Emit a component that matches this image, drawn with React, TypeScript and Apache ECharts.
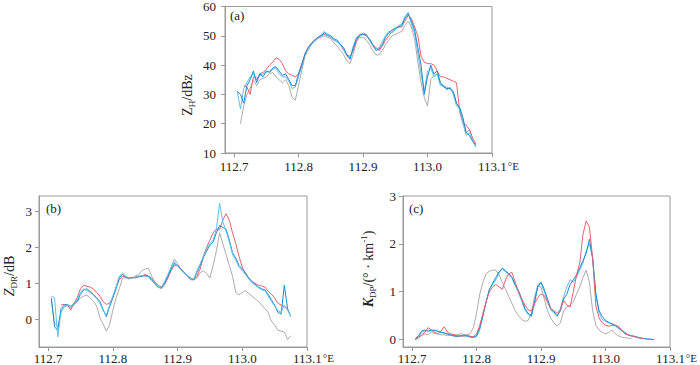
import React, { useEffect, useRef } from "react";
import * as echarts from "echarts";

const LON = [
  112.705, 112.71, 112.715, 112.72, 112.725, 112.73, 112.735, 112.74, 112.745, 112.75,
  112.755, 112.76, 112.765, 112.77, 112.775, 112.78, 112.785, 112.79, 112.795, 112.8,
  112.805, 112.81, 112.815, 112.82, 112.825, 112.83, 112.835, 112.84, 112.845, 112.85,
  112.855, 112.86, 112.865, 112.87, 112.875, 112.88, 112.885, 112.89, 112.895, 112.9,
  112.905, 112.91, 112.915, 112.92, 112.925, 112.93, 112.935, 112.94, 112.945, 112.95,
  112.955, 112.96, 112.965, 112.97, 112.975, 112.98, 112.985, 112.99, 112.995, 113.0,
  113.005, 113.01, 113.015, 113.02, 113.025, 113.03, 113.035, 113.04, 113.045, 113.05,
  113.055, 113.06, 113.065, 113.07, 113.075,
];

const X_TICKS = [112.7, 112.8, 112.9, 113.0, 113.1];
const ZDR_TICKS = [0, 1, 2, 3];
const KDP_TICKS = [0, 1, 2, 3];

// (a) Z_H / dBz
const ZH_RED = [
  null, null, 33, 32.5, 30, 36, 35, 37, 37.5, 38.5,
  40, 41, 42.5, 42, 40.5, 38, 37, 36.5, 36, 37,
  40.5, 43.5, 46, 47.5, 48.5, 49.5, 50, 50.5, 50, 49.5,
  48.5, 48, 47, 45, 43.5, 43, 45, 48.5, 50, 50.5,
  50.5, 48.5, 47, 46, 45, 46.5, 48.5, 50, 51.5, 52.5,
  53, 53, 55, 57, 56, 53, 50, 43, 41, 40.5,
  40.5, 40, 38, 36, 36, 35.5, 35, 34.5, 34, 24,
  20, 19.5, 18, 15, 13,
];
const ZH_BLUE = [
  31, 30, 27, 33, 35, 38, 34, 37, 36, 38,
  37.5, 39, 39.5, 38, 36.5, 37, 35, 33, 33, 37,
  40, 44, 46, 47.5, 48.5, 49.5, 50, 51, 50.5, 50,
  49, 48.5, 47, 46, 43.5, 42, 46, 49, 50.5, 50.5,
  50, 49, 47, 45, 45.5, 47, 49.5, 51, 52, 52.5,
  53, 53.5, 56, 57.5, 55, 52, 46, 40, 30, 36,
  40, 37, 38, 34, 32.5, 32, 32, 31, 27, 25.5,
  22, 17, 16, 14, 12.5,
];
const ZH_LBLUE = [
  31, 25, 32, 34, 36, 37, 35.5, 36.5, 37, 37.5,
  38, 38.5, 39, 37, 36, 36, 34.5, 32, 32.5, 36,
  39.5, 43.5, 46, 47, 48.5, 49, 50.5, 51.5, 50, 49.5,
  48.5, 48, 47, 45.5, 43, 42.5, 46.5, 49.5, 50, 51,
  50.5, 48.5, 46.5, 45.5, 46, 48, 50, 51.5, 51, 52,
  53.5, 54, 56.5, 58, 54, 51, 44, 37, 31, 38,
  39, 36, 37, 33, 33, 31.5, 32.5, 30, 26, 25,
  20, 16, 17, 14.5, 12,
];
const ZH_GRAY = [
  null, 20, 26, 30, 32, 35, 33, 35, 35.5, 36,
  37, 37.5, 36, 35, 34, 35, 33, 29, 28, 33,
  38, 43, 45, 47, 48, 49, 49.5, 50, 49.5, 49,
  47.5, 46.5, 45, 43.5, 41.5, 40.5, 44, 48, 49.5, 49.5,
  48.5, 47, 45, 43.5, 43.5, 45, 47, 48.5, 50, 50.5,
  51, 51.5, 53.5, 55, 53, 49, 41, 34, 29, 26,
  35, 36.5, 37, 34, 33, 32.5, 32, 30.5, 27, 25,
  21, 17, 18, 15, null,
];

// (b) Z_DR / dB
const ZDR_RED = [
  null, null, null, 0.4, 0.42, 0.4, 0.26, 0.45, 0.6, 0.85,
  0.95, 0.92, 0.9, 0.85, 0.75, 0.65, 0.5, 0.42, 0.45, 0.6,
  0.9, 1.1, 1.2, 1.18, 1.15, 1.15, 1.18, 1.2, 1.2, 1.25,
  1.2, 1.15, 1.05, 0.95, 0.9, 1.0, 1.15, 1.35, 1.5, 1.5,
  1.4, 1.3, 1.2, 1.1, 1.1, 1.2, 1.4, 1.75, 2.0, 2.2,
  2.4, 2.5, 2.5, 2.75, 2.93, 2.75, 2.4, 2.1, 1.75, 1.45,
  1.25, 1.15, 1.05, 1.0, 0.95, 0.93, 0.9, 0.78, 0.7, 0.6,
  0.45, 0.4, 0.35, 0.3, null,
];
const ZDR_BLUE = [
  0.6, -0.2, -0.3, 0.3, 0.4, 0.42, 0.35, 0.45, 0.5, 0.7,
  0.82, 0.85, 0.78, 0.7, 0.6, 0.5, 0.28, 0.08, 0.35, 0.6,
  0.85, 1.15, 1.25, 1.18, 1.15, 1.17, 1.15, 1.18, 1.2, 1.22,
  1.2, 1.1, 1.0, 0.9, 0.88, 1.0, 1.2, 1.38, 1.55, 1.5,
  1.4, 1.3, 1.22, 1.15, 1.1, 1.3, 1.5, 1.72, 1.9, 2.05,
  2.15, 2.4, 2.6, 2.55, 2.5, 2.2, 1.85, 1.7, 1.5, 1.4,
  1.3, 1.15, 1.05, 0.98, 0.9, 0.85, 0.82, 0.7, 0.55, 0.4,
  0.2, 0.15, 0.95, 0.3, 0.08,
];
const ZDR_LBLUE = [
  0.65, 0.6, -0.48, 0.2, 0.38, 0.4, 0.38, 0.42, 0.55, 0.75,
  0.85, 0.8, 0.75, 0.68, 0.58, 0.45, 0.25, 0.12, 0.4, 0.65,
  0.9, 1.2, 1.28, 1.2, 1.15, 1.15, 1.17, 1.2, 1.22, 1.2,
  1.18, 1.08, 0.98, 0.88, 0.9, 1.05, 1.25, 1.45, 1.6, 1.48,
  1.38, 1.28, 1.2, 1.12, 1.12, 1.35, 1.55, 1.75, 1.95, 2.1,
  2.2, 2.5, 3.22, 2.7, 2.45, 2.15, 1.8, 1.65, 1.45, 1.35,
  1.25, 1.12, 1.02, 0.95, 0.88, 0.82, 0.8, 0.65, 0.5, 0.38,
  0.25, 0.2, 0.4, 0.25, 0.1,
];
const ZDR_GRAY = [
  0.55, -0.1, -0.2, 0.2, 0.35, 0.38, 0.32, 0.4, 0.5, 0.6,
  0.65, 0.67, 0.6, 0.5, 0.38, 0.05, -0.12, -0.32, -0.15, 0.25,
  0.6, 0.85, 1.15, 1.15, 1.12, 1.15, 1.2, 1.25, 1.35, 1.4,
  1.42, 1.2, 1.0, 0.9, 0.85, 0.95, 1.15, 1.45, 1.68, 1.55,
  1.4, 1.3, 1.2, 1.15, 1.1, 1.15, 1.3, 1.35, 1.27, 1.15,
  1.5, 1.9, 2.4, 2.1, 1.8, 1.5, 1.2, 0.75, 0.68, 0.75,
  0.8, 0.72, 0.65, 0.57, 0.5, 0.4, 0.3, 0.2, -0.05, -0.15,
  -0.3, -0.32, -0.35, -0.55, -0.45,
];

// (c) K_DP / (°·km^-1)
const KDP_RED = [
  0.0, 0.05, 0.1, 0.15, 0.25, 0.2, 0.15, 0.12, 0.18, 0.27,
  0.15, 0.12, 0.1, 0.08, 0.08, 0.07, 0.09, 0.07, 0.06, 0.12,
  0.3, 0.55, 0.8, 1.0, 1.1, 1.15, 1.1, 1.05, 1.25, 1.38,
  1.4, 1.2, 1.0, 0.85, 0.72, 0.62, 0.6, 0.75, 0.88, 0.95,
  0.92, 0.78, 0.65, 0.6, 0.55, 0.62, 0.82, 0.72, 0.68, 1.0,
  1.35, 1.6, 2.2, 2.48, 2.35, 1.7, 0.7, 0.45, 0.35, 0.3,
  0.28, 0.3, 0.3, 0.28, 0.2, 0.12, 0.1, 0.08, 0.06, 0.04,
  0.03, 0.02, null, null, null,
];
const KDP_BLUE = [
  0.02, 0.08, 0.18, 0.2, 0.17, 0.2, 0.19, 0.17, 0.15, 0.14,
  0.12, 0.1, 0.08, 0.07, 0.08, 0.09, 0.08, 0.06, 0.05, 0.08,
  0.25, 0.5, 0.8, 1.05, 1.18, 1.3, 1.42, 1.48, 1.42, 1.38,
  1.3, 1.15, 1.03, 0.85, 0.65, 0.55, 0.5, 0.8, 1.1, 1.2,
  1.05, 0.85, 0.65, 0.58, 0.5, 0.6, 0.85, 0.95, 1.15, 1.25,
  1.35, 1.5, 1.65, 1.8, 2.1, 1.7, 0.95, 0.6, 0.48, 0.4,
  0.36, 0.33, 0.3, 0.25, 0.2, 0.15, 0.1, 0.08, 0.07, 0.05,
  0.03, 0.02, 0.01, 0.01, 0.0,
];
const KDP_LBLUE = [
  0.0, 0.06, 0.15, 0.18, 0.2, 0.18, 0.2, 0.18, 0.16, 0.13,
  0.11, 0.09, 0.07, 0.06, 0.07, 0.08, 0.07, 0.05, 0.04, 0.06,
  0.2, 0.5, 0.8, 1.05, 1.15, 1.25, 1.38, 1.5, 1.45, 1.35,
  1.28, 1.12, 0.98, 0.8, 0.62, 0.52, 0.48, 0.75, 1.15, 1.18,
  1.0, 0.8, 0.62, 0.55, 0.48, 0.65, 0.9, 1.1, 1.25, 1.2,
  1.3, 1.45, 1.6, 1.85, 2.0, 1.7, 0.95, 0.55, 0.42, 0.38,
  0.35, 0.32, 0.28, 0.23, 0.18, 0.13, 0.09, 0.07, 0.06, 0.04,
  0.03, 0.02, 0.01, 0.0, 0.0,
];
const KDP_GRAY = [
  0.0, 0.03, 0.08, 0.12, 0.1, 0.15, 0.13, 0.12, 0.1, 0.1,
  0.08, 0.09, 0.1, 0.1, 0.12, 0.11, 0.1, 0.12, 0.25, 0.55,
  0.95, 1.2, 1.38, 1.43, 1.45, 1.45, 1.35, 1.2, 1.05, 0.9,
  0.75, 0.6, 0.5, 0.42, 0.38, 0.4, 0.55, 0.9, 1.12, 1.1,
  0.85, 0.6, 0.45, 0.35, 0.28, 0.35, 0.6, 0.68, 0.72, 0.78,
  0.95, 1.1, 1.3, 1.45, 1.2, 0.6, 0.3, 0.2, 0.15, 0.12,
  0.15, 0.2, 0.12, 0.08, 0.05, 0.04, 0.03, 0.02, null, null,
  null, null, null, null, null,
];

const FONT = "'Liberation Serif', 'DejaVu Serif', serif";
const AXIS_COLOR = "#9a9a9a";
const TEXT_COLOR = "#222";
const C_RED = "#e8616c";
const C_BLUE = "#1f87d2";
const C_LBLUE = "#5ec0ea";
const C_GRAY = "#ababab";

function pts(vals: (number | null)[]) {
  const out: [number, number][] = [];
  LON.forEach((x, i) => {
    const v = vals[i];
    if (v !== null && v !== undefined) out.push([x, v]);
  });
  return out;
}

function line(data: (number | null)[], color: string, idx: number) {
  return {
    type: "line",
    xAxisIndex: idx,
    yAxisIndex: idx,
    data: pts(data),
    symbol: "none",
    showSymbol: false,
    silent: true,
    lineStyle: { width: 1, color },
  };
}

function xAxis(idx: number, margin: number) {
  return {
    type: "value",
    gridIndex: idx,
    min: 112.686,
    max: 113.1,
    axisLine: { show: true, onZero: false, lineStyle: { color: AXIS_COLOR, width: 1 } },
    axisTick: {
      show: true,
      inside: false,
      length: 4,
      customValues: X_TICKS,
      lineStyle: { color: AXIS_COLOR },
    },
    splitLine: { show: false },
    axisLabel: {
      customValues: X_TICKS,
      margin,
      color: TEXT_COLOR,
      fontFamily: FONT,
      fontSize: 13,
      formatter: (v: number) =>
        Math.abs(v - 113.1) < 1e-6 ? "{p|113.1}{u|°E}" : v.toFixed(1),
      rich: {
        p: { fontFamily: FONT, fontSize: 13, color: TEXT_COLOR, padding: [0, 0, 0, 13] },
        u: { fontFamily: FONT, fontSize: 11, color: TEXT_COLOR, verticalAlign: "top", padding: [0, 0, 0, 1] },
      },
    },
  };
}

function yAxis(idx: number, min: number, max: number, ticks: number[] | null, margin: number) {
  const base: any = {
    type: "value",
    gridIndex: idx,
    min,
    max,
    axisLine: { show: true, onZero: false, lineStyle: { color: AXIS_COLOR, width: 1 } },
    axisTick: { show: true, inside: false, length: 4, lineStyle: { color: AXIS_COLOR } },
    splitLine: { show: false },
    axisLabel: { margin, color: TEXT_COLOR, fontFamily: FONT, fontSize: 13 },
  };
  if (ticks) {
    base.axisTick.customValues = ticks;
    base.axisLabel.customValues = ticks;
  } else {
    base.interval = 10;
  }
  return base;
}

const RICH = {
  m: { fontFamily: FONT, fontSize: 14, color: TEXT_COLOR, lineHeight: 18 },
  i: { fontFamily: FONT, fontSize: 14, color: TEXT_COLOR, fontStyle: "italic", lineHeight: 18 },
  ib: { fontFamily: FONT, fontSize: 14, color: TEXT_COLOR, fontStyle: "italic", fontWeight: "bold", lineHeight: 18 },
  s: { fontFamily: FONT, fontSize: 9, color: TEXT_COLOR, lineHeight: 10, verticalAlign: "bottom" },
  t: { fontFamily: FONT, fontSize: 9, color: TEXT_COLOR, lineHeight: 10, verticalAlign: "top" },
};

function title(text: string, x: number, y: number) {
  return {
    type: "text",
    x,
    y,
    rotation: Math.PI / 2,
    silent: true,
    style: { text, rich: RICH, align: "center", verticalAlign: "middle", font: `14px ${FONT}`, fill: TEXT_COLOR },
  };
}

function tag(text: string, x: number, y: number) {
  return {
    type: "text",
    x,
    y,
    silent: true,
    style: { text, align: "left", verticalAlign: "middle", font: `13px ${FONT}`, fill: TEXT_COLOR },
  };
}

export default function App() {
  const ref = useRef<HTMLDivElement>(null);
  useEffect(() => {
    if (!ref.current) return;
    const chart = echarts.init(ref.current, undefined, { renderer: "svg" });
    chart.setOption({
      animation: false,
      backgroundColor: "#fff",
      grid: [
        { left: 225, top: 5, width: 267, height: 148, show: true, borderColor: AXIS_COLOR, borderWidth: 1 },
        { left: 39, top: 196, width: 268, height: 151, show: true, borderColor: AXIS_COLOR, borderWidth: 1 },
        { left: 403, top: 196, width: 269, height: 151, show: true, borderColor: AXIS_COLOR, borderWidth: 1 },
      ],
      xAxis: [xAxis(0, 7), xAxis(1, 5), xAxis(2, 5)],
      yAxis: [
        yAxis(0, 10, 60, null, 9),
        yAxis(1, -0.76, 3.42, ZDR_TICKS, 7),
        yAxis(2, -0.155, 3, KDP_TICKS, 7),
      ],
      series: [
        line(ZH_GRAY, C_GRAY, 0),
        line(ZH_RED, C_RED, 0),
        line(ZH_LBLUE, C_LBLUE, 0),
        line(ZH_BLUE, C_BLUE, 0),
        line(ZDR_GRAY, C_GRAY, 1),
        line(ZDR_RED, C_RED, 1),
        line(ZDR_BLUE, C_BLUE, 1),
        line(ZDR_LBLUE, C_LBLUE, 1),
        line(KDP_GRAY, C_GRAY, 2),
        line(KDP_LBLUE, C_LBLUE, 2),
        line(KDP_BLUE, C_BLUE, 2),
        line(KDP_RED, C_RED, 2),
      ],
      graphic: [
        title("{m|Z}{s|H}{m|/dBz}", 187, 95),
        title("{i|Z}{s|DR}{m|/dB}", 9, 276),
        title("{ib|K}{s|DP}{m|/(° · km}{t|-1}{m|)}", 368, 269),
        tag("(a)", 230, 15),
        tag("(b)", 46, 208),
        tag("(c)", 409, 208),
      ],
    });
    return () => chart.dispose();
  }, []);
  return (
    <div
      ref={ref}
      style={{ position: "absolute", left: 0, top: 0, width: 700, height: 365 }}
    />
  );
}
